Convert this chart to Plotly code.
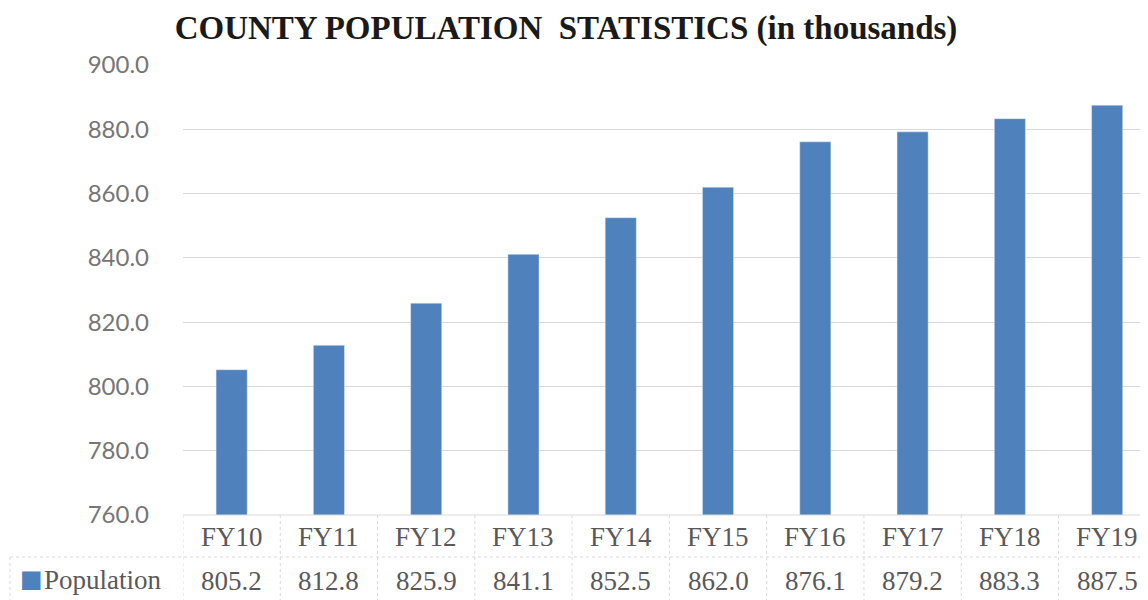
import plotly.graph_objects as go

categories = ["FY10", "FY11", "FY12", "FY13", "FY14", "FY15", "FY16", "FY17", "FY18", "FY19"]
population = [805.2, 812.8, 825.9, 841.1, 852.5, 862.0, 876.1, 879.2, 883.3, 887.5]
series_name = "Population"
title_text = "COUNTY POPULATION&nbsp; STATISTICS (in thousands)"

BAR = "#4F81BD"
GRID = "#D9D9D9"
TXT = "#595959"
TICK = "#767676"
SERIF = "Liberation Serif, Times New Roman, serif"

# page has an 8px body margin; figure is sized to fit the window
OFF = 8
W, H = 1148 - OFF, 600 - OFF
PL, PR, PT, PB = 183, 1148, 65, 515  # plot area in page pixels


def py(px):
    return (PB - px) / (PB - PT)


def pxr(px):
    return (px - PL) / (PR - PL)


fig = go.Figure()
fig.add_trace(go.Bar(x=categories, y=population, marker_color=BAR, width=0.32,
                     name=series_name, showlegend=False))

annotations = []
shapes = []
n = len(categories)
tfont = dict(family=SERIF, size=27, color=TXT)

for c, v in zip(categories, population):
    annotations.append(dict(x=c, y=py(537), xref="x", yref="paper", text=c, showarrow=False,
                            font=tfont, yanchor="middle"))
    annotations.append(dict(x=c, y=py(581), xref="x", yref="paper", text=f"{v:.1f}", showarrow=False,
                            font=tfont, yanchor="middle"))

annotations.append(dict(x=pxr(42), y=py(580), xref="paper", yref="paper", xanchor="left",
                        text=series_name, showarrow=False, font=tfont, yanchor="middle"))
annotations.append(dict(x=pxr(31), y=py(579), xref="paper", yref="paper", xanchor="center",
                        text="■", showarrow=False, yanchor="middle",
                        font=dict(family="DejaVu Sans", size=24, color=BAR)))

dot = dict(color=GRID, width=1, dash="dot")
shapes.append(dict(type="line", xref="x", yref="paper", x0=-0.5, x1=n - 0.5, y0=py(515), y1=py(515),
                   line=dict(color=GRID, width=1)))
shapes.append(dict(type="line", xref="paper", yref="paper", x0=pxr(10), x1=1.05, y0=py(557), y1=py(557),
                   line=dot))
for i in range(n + 1):
    shapes.append(dict(type="line", xref="x", yref="paper", x0=i - 0.5, x1=i - 0.5, y0=py(515), y1=py(600),
                       line=dot))
shapes.append(dict(type="line", xref="paper", yref="paper", x0=pxr(10), x1=pxr(10),
                   y0=py(557), y1=py(600), line=dot))

fig.update_layout(
    width=W, height=H,
    margin=dict(l=PL - OFF, r=W - (PR - OFF), t=PT - OFF, b=H - (PB - OFF)),
    paper_bgcolor="white", plot_bgcolor="white",
    title=dict(text=title_text, x=(566 - OFF) / W, xanchor="center", y=1 - (27 - OFF) / H, yanchor="middle",
               font=dict(family=SERIF, size=33, color="#1a1a1a", weight="bold")),
    xaxis=dict(type="category", range=[-0.5, 9.42], showticklabels=False, showgrid=False,
               zeroline=False, showline=False),
    yaxis=dict(range=[760, 900], dtick=20, tick0=760, tickformat=".1f", showgrid=True, gridcolor=GRID,
               gridwidth=1, zeroline=False, showline=False, ticklabelstandoff=33,
               tickfont=dict(family="Lato, Carlito, sans-serif", size=24, color=TICK)),
    annotations=annotations, shapes=shapes,
)

fig.write_html("out.html")
